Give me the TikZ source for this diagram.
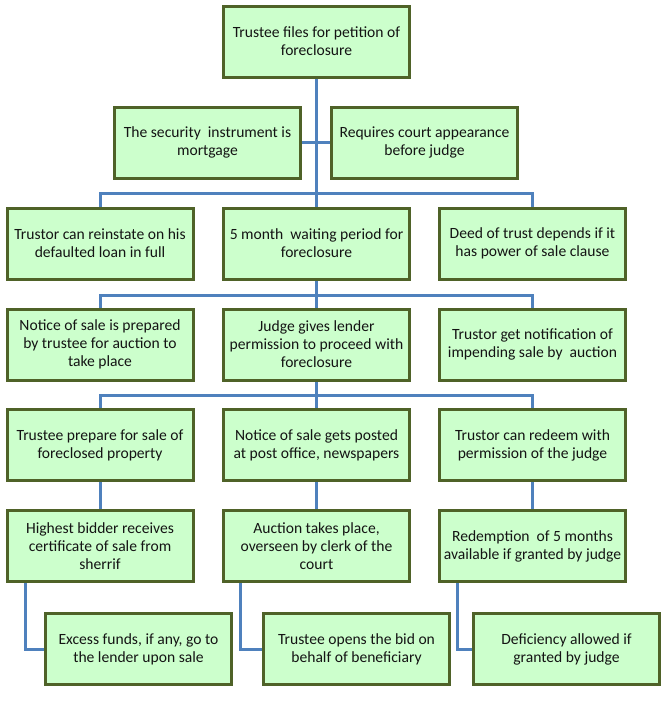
\documentclass[tikz,border=0pt]{standalone}
\usepackage{fontspec}
\setmainfont{Carlito}
\usetikzlibrary{backgrounds}
\definecolor{boxfill}{RGB}{204,255,204}
\definecolor{boxline}{RGB}{79,98,40}
\definecolor{conn}{RGB}{79,129,189}
\definecolor{txt}{RGB}{20,20,20}
\begin{document}
\begin{tikzpicture}[x=1pt,y=-1pt,
  box/.style={draw=boxline, line width=3pt, fill=boxfill, minimum width=186pt, minimum height=71pt,
    align=center, inner sep=1pt, text=txt, font=\fontsize{15.6}{18}\selectfont},
  wire/.style={draw=conn, line width=3pt}]
\useasboundingbox (0,0) rectangle (664,705);
\node[box] (top) at (316.5,41.5) {Trustee files for petition of\\foreclosure};
\node[box] (r2a) at (207.5,142.5) {The security~ instrument is\\mortgage};
\node[box] (r2b) at (424.5,142.5) {Requires court appearance\\before judge};
\node[box] (r3a) at (100,243.5) {Trustor can reinstate on his\\defaulted loan in full};
\node[box] (r3b) at (316.5,243.5) {5 month~ waiting period for\\foreclosure};
\node[box] (r3c) at (532.5,243.5) {Deed of trust depends if it\\has power of sale clause};
\node[box] (r4a) at (100,344.5) {Notice of sale is prepared\\by trustee for auction to\\take place};
\node[box] (r4b) at (316.5,344.5) {Judge gives lender\\permission to proceed with\\foreclosure};
\node[box] (r4c) at (532.5,344.5) {Trustor get notification of\\impending sale by~ auction};
\node[box] (r5a) at (100,445) {Trustee prepare for sale of\\foreclosed property};
\node[box] (r5b) at (316.5,445) {Notice of sale gets posted\\at post office, newspapers};
\node[box] (r5c) at (532.5,445) {Trustor can redeem with\\permission of the judge};
\node[box] (r6a) at (100,546) {Highest bidder receives\\certificate of sale from\\sherrif};
\node[box] (r6b) at (316.5,546) {Auction takes place,\\overseen by clerk of the\\court};
\node[box] (r6c) at (532.5,546) {Redemption~ of 5 months\\available if granted by judge};
\node[box] (r7a) at (138.5,649) {Excess funds, if any, go to\\the lender upon sale};
\node[box] (r7b) at (356.5,649) {Trustee opens the bid on\\behalf of beneficiary};
\node[box] (r7c) at (566.5,649) {Deficiency allowed if\\granted by judge};
\coordinate (b1) at (316.5,193);
\coordinate (b2) at (316.5,295);
\coordinate (b3) at (316.5,395);
\begin{scope}[on background layer]
\draw[wire] (top.south) -- (r3b.north);
\draw[wire] (r2a.east) -- (r2b.west);
\draw[wire] (r3a.north) |- (b1) -| (r3c.north);
\draw[wire] (r3b.south) -- (r4b.north);
\draw[wire] (r4a.north) |- (b2) -| (r4c.north);
\draw[wire] (r4b.south) -- (r5b.north);
\draw[wire] (r5a.north) |- (b3) -| (r5c.north);
\draw[wire] (r5a.south) -- (r6a.north);
\draw[wire] (r5b.south) -- (r6b.north);
\draw[wire] (r5c.south) -- (r6c.north);
\draw[wire] ([xshift=20pt]r6a.south west) |- (r7a.west);
\draw[wire] ([xshift=18pt]r6b.south west) |- (r7b.west);
\draw[wire] ([xshift=19pt]r6c.south west) |- (r7c.west);
\end{scope}
\end{tikzpicture}
\end{document}
